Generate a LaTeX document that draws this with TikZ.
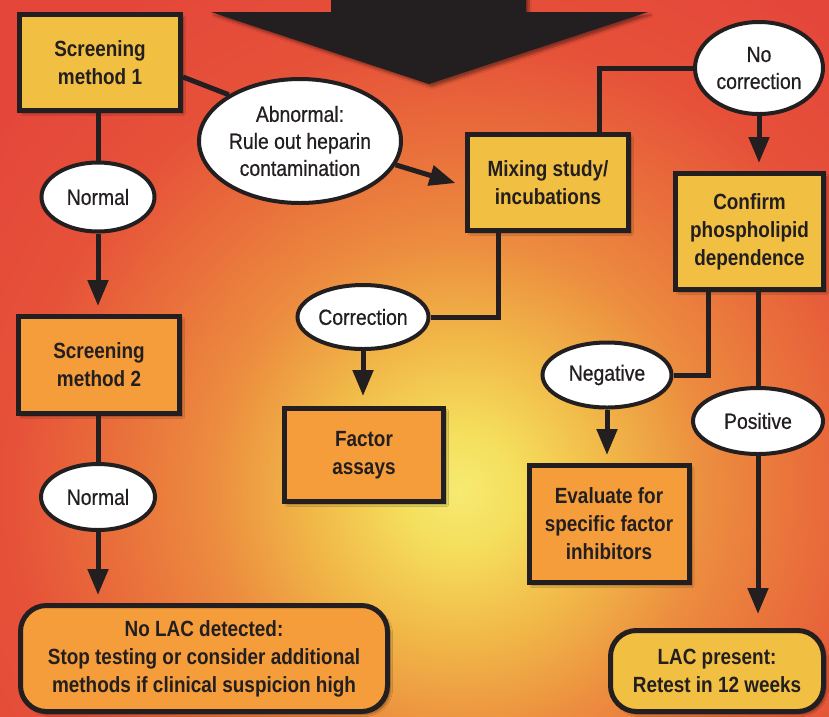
\documentclass[tikz,border=0pt]{standalone}
\usepackage{fontspec}
\setmainfont{Liberation Sans}[FakeStretch=0.86]
\newfontfamily\ovalfont{Liberation Sans}[FakeStretch=0.88, FakeBold=0.6]
\usetikzlibrary{shapes.geometric,arrows.meta,shadows.blur}
\definecolor{ink}{HTML}{231F20}
\definecolor{boxY}{HTML}{F1BF42}
\definecolor{boxO}{HTML}{F59D3A}
\definecolor{c0}{HTML}{F6EA72}
\definecolor{c1}{HTML}{F5DE5C}
\definecolor{c2}{HTML}{F1B848}
\definecolor{c3}{HTML}{EC8C3F}
\definecolor{c4}{HTML}{E96E3B}
\definecolor{c5}{HTML}{E65139}
\definecolor{c6}{HTML}{E4463A}
\pgfdeclareradialshading{bgshade}{\pgfpoint{0bp}{0bp}}{color(0bp)=(c0); color(1.875bp)=(c1); color(4.69bp)=(c2); color(7.81bp)=(c3); color(10.94bp)=(c4); color(14.06bp)=(c5); color(18.75bp)=(c6); color(50bp)=(c6)}
\begin{document}
\begin{tikzpicture}[x=1pt,y=-1pt,
  box/.style={draw=ink, line width=5pt, text=ink, align=center, inner sep=0pt,
    font=\bfseries\fontsize{22}{28}\selectfont,
    blur shadow={shadow xshift=3pt, shadow yshift=-3pt, shadow opacity=40, shadow blur steps=6}},
  ybox/.style={box, fill=boxY},
  obox/.style={box, fill=boxO},
  oval/.style={ellipse, draw=ink, line width=4pt, fill=white, text=ink, align=center,
    inner sep=-30pt, font=\ovalfont\fontsize{22}{27}\selectfont},
  conn/.style={draw=ink, line width=5pt},
  arr/.style={conn, -{Triangle[width=20pt,length=26pt]}, shorten >=8pt}]
\useasboundingbox (0,0) rectangle (829,716);
\begin{scope}
  \clip (0,0) rectangle (829,716);
  \shade[shading=bgshade] (460,490) circle (800);
\end{scope}
% big arrow
\fill[ink, blur shadow={shadow xshift=3pt, shadow yshift=-3pt, shadow opacity=40, shadow blur steps=6}]
  (331,-5) -- (526,-5) -- (526,12) -- (648,12) -- (429,84) -- (211,12) -- (331,12) -- cycle;
% boxes
\node[ybox, minimum width=161pt, minimum height=96pt] (s1) at (100,62.5) {Screening\\method 1};
\node[obox, minimum width=161pt, minimum height=97pt] (s2) at (99,365) {Screening\\method 2};
\node[ybox, minimum width=161pt, minimum height=96pt] (mix) at (548,182.5) {Mixing study/\\incubations};
\node[ybox, minimum width=148pt, minimum height=116pt] (conf) at (749.5,231.5) {Confirm\\phospholipid\\dependence};
\node[obox, minimum width=159pt, minimum height=93pt] (fact) at (364,455) {Factor\\assays};
\node[obox, minimum width=160pt, minimum height=117pt] (eval) at (609,524) {Evaluate for\\specific factor\\inhibitors};
\node[obox, rounded corners=26pt, minimum width=367pt, minimum height=106pt] (nolac) at (204,658.5) {No LAC detected:\\Stop testing or consider additional\\methods if clinical suspicion high};
\node[ybox, rounded corners=26pt, minimum width=213pt, minimum height=81pt] (lacp) at (717,671) {LAC present:\\Retest in 12 weeks};
% ovals
\node[oval, minimum width=113pt, minimum height=69pt] (n1) at (98,197) {Normal};
\node[oval, minimum width=114pt, minimum height=66pt] (n2) at (98,497) {Normal};
\node[oval, minimum width=202pt, minimum height=124pt] (abn) at (300,141) {Abnormal:\\Rule out heparin\\contamination};
\node[oval, minimum width=128pt, minimum height=92pt] (nocor) at (759,68) {No\\correction};
\node[oval, minimum width=131pt, minimum height=64pt] (cor) at (363,317) {Correction};
\node[oval, minimum width=129pt, minimum height=65pt] (neg) at (607,375) {Negative};
\node[oval, minimum width=130pt, minimum height=66pt] (pos) at (758,421) {Positive};
% connectors
\draw[conn] (s1.south -| n1.north) -- (n1.north);
\draw[arr] (n1.south) -- (n1.south |- s2.north);
\draw[conn] (s2.south -| n2.north) -- (n2.north);
\draw[arr] (n2.south) -- (n2.south |- nolac.north);
\draw[conn] (s1.east |- 0,77) -- (abn.147);
\draw[arr, shorten >=10pt] (abn.-14) -- (mix.west |- 0,186);
\draw[conn] (mix.north -| 599,0) |- (nocor.west);
\draw[arr] (nocor.south) -- (nocor.south |- conf.north);
\draw[conn] (mix.south -| 498,0) |- (cor.east);
\draw[arr, shorten >=10pt] (cor.south) -- (cor.south |- fact.north);
\draw[conn] (conf.south -| 708,0) |- (neg.east);
\draw[arr] (neg.south) -- (neg.south |- eval.north);
\draw[conn] (conf.south -| 758,0) -- (pos.north);
\draw[arr, shorten >=14pt] (pos.south) -- (pos.south |- lacp.north);
\end{tikzpicture}
\end{document}
